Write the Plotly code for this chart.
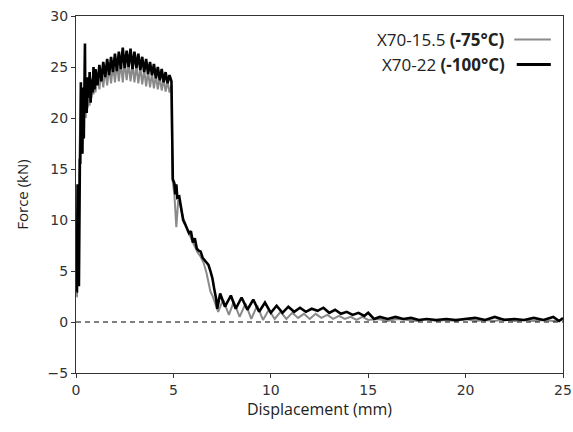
import plotly.graph_objects as go

# X70-22 (-100°C), black
black_x = [0.03, 0.05, 0.08, 0.1, 0.12, 0.15, 0.18, 0.2, 0.22, 0.25, 0.28, 0.3, 0.33, 0.36, 0.4, 0.43, 0.46, 0.48,
           0.5, 0.55, 0.6, 0.65, 0.7, 0.75, 0.8, 0.85, 0.9, 0.95,
           1.0, 1.1, 1.2, 1.3, 1.4, 1.5, 1.6, 1.7, 1.8, 1.9, 2.0, 2.1, 2.2, 2.3, 2.4, 2.5, 2.6, 2.7, 2.8, 2.9,
           3.0, 3.1, 3.2, 3.3, 3.4, 3.5, 3.6, 3.7, 3.8, 3.9, 4.0, 4.1, 4.2, 4.3, 4.4, 4.5, 4.6, 4.7, 4.8, 4.9,
           4.93, 4.97, 5.05, 5.1, 5.15, 5.2, 5.3, 5.4, 5.5, 5.6, 5.7, 5.8, 5.9, 6.0, 6.1, 6.2, 6.3, 6.4, 6.5,
           6.6, 6.7, 6.8, 6.9, 7.0, 7.1, 7.2, 7.25, 7.4, 7.65, 7.95, 8.2, 8.5, 8.8, 9.1, 9.4, 9.7, 10.0,
           10.3, 10.6, 10.9, 11.2, 11.5, 11.8, 12.1, 12.4, 12.7, 13.0, 13.3, 13.6, 13.9, 14.2, 14.5, 14.8,
           15.0, 15.3, 15.6, 16.0, 16.4, 16.8, 17.2, 17.6, 18.0, 18.5, 19.0, 19.5, 20.0, 20.5, 21.0, 21.5,
           22.0, 22.5, 23.0, 23.5, 24.0, 24.5, 24.8, 25.0]
black_y = [3.0, 3.0, 13.5, 4.5, 12.5, 3.5, 14.0, 16.0, 15.5, 23.5, 17.0, 21.0, 16.5, 23.0, 18.0, 24.0, 27.3, 21.0,
           23.5, 20.5, 24.0, 22.0, 24.5, 21.5, 23.8, 22.5, 25.0, 22.8,
           24.8, 23.2, 25.2, 23.6, 25.5, 24.0, 25.8, 24.2, 26.0, 24.5, 26.3, 24.6, 26.5, 24.8, 26.9, 24.9, 26.6, 25.0, 26.8, 24.8,
           26.5, 24.9, 26.3, 24.7, 26.0, 24.5, 25.8, 24.3, 25.5, 24.2, 25.3, 23.9, 25.0, 23.7, 24.8, 23.5, 24.5, 23.4, 24.2, 23.6,
           15.0, 14.0, 13.6, 12.5, 13.5, 12.2, 12.3, 11.0, 10.0, 9.6, 9.2, 8.7, 8.9, 7.8, 8.2, 7.2, 7.0, 6.9, 6.3,
           6.1, 5.9, 5.6, 5.0, 4.3, 3.2, 2.2, 1.3, 2.8, 1.5, 2.6, 1.3, 2.4, 1.2, 2.2, 1.0, 1.9, 0.9,
           1.6, 0.9, 1.5, 1.0, 1.4, 1.0, 1.3, 1.1, 1.4, 0.9, 1.2, 0.8, 1.0, 0.7, 0.9, 0.6,
           0.9, 0.3, 0.5, 0.3, 0.5, 0.3, 0.4, 0.2, 0.3, 0.2, 0.3, 0.2, 0.3, 0.4, 0.2, 0.5,
           0.2, 0.3, 0.2, 0.4, 0.2, 0.5, 0.1, 0.4]

# X70-15.5 (-75°C), grey
grey_x = [0.03, 0.05, 0.08, 0.12, 0.16, 0.2, 0.25, 0.3, 0.35, 0.4, 0.45, 0.5, 0.55, 0.6, 0.65, 0.7, 0.75, 0.8, 0.85, 0.9, 0.95,
          1.0, 1.1, 1.2, 1.3, 1.4, 1.5, 1.6, 1.7, 1.8, 1.9, 2.0, 2.1, 2.2, 2.3, 2.4, 2.5, 2.6, 2.7, 2.8, 2.9,
          3.0, 3.1, 3.2, 3.3, 3.4, 3.5, 3.6, 3.7, 3.8, 3.9, 4.0, 4.1, 4.2, 4.3, 4.4, 4.5, 4.6, 4.7, 4.8, 4.9,
          4.95, 5.05, 5.15, 5.25, 5.35, 5.5, 5.65, 5.8, 5.95, 6.1, 6.25, 6.4, 6.55, 6.7, 6.8, 6.9, 7.0, 7.1,
          7.3, 7.55, 7.85, 8.1, 8.4, 8.7, 9.0, 9.3, 9.6, 9.9, 10.2, 10.5, 10.8, 11.1, 11.4, 11.7, 12.0, 12.3,
          12.6, 12.9, 13.2, 13.5, 13.8, 14.1, 14.4, 14.7, 15.0, 15.5, 16.0, 16.5, 17.0, 17.5, 18.0, 18.5,
          19.0, 19.5, 20.0, 20.5, 21.0, 21.5, 22.0, 22.5, 23.0, 23.5, 24.0, 24.5, 25.0]
grey_y = [2.5, 2.5, 11.0, 4.0, 15.0, 18.0, 22.5, 16.5, 21.5, 19.0, 23.0, 20.0, 22.5, 21.0, 23.5, 21.2, 23.3, 22.0, 24.0, 22.3, 24.2,
          22.5, 24.4, 22.8, 24.6, 23.0, 24.8, 23.2, 25.0, 23.4, 25.2, 23.5, 25.4, 23.6, 25.5, 23.5, 25.6, 23.7, 25.4, 23.6, 25.3,
          23.5, 25.2, 23.4, 25.0, 23.3, 24.8, 23.1, 24.6, 23.0, 24.4, 22.9, 24.2, 22.8, 24.0, 22.7, 23.8, 22.6, 23.6, 22.5, 23.2,
          14.0, 12.5, 9.3, 12.0, 11.5, 10.2, 9.4, 8.6, 8.0, 7.4, 6.8, 6.4, 5.8, 4.8, 4.0, 3.0, 2.6, 2.0,
          1.0, 2.2, 0.7, 2.0, 0.5, 1.8, 0.3, 1.6, 0.2, 1.2, 0.3, 1.0, 0.3, 0.9, 0.4, 0.8, 0.3, 0.8,
          0.4, 0.7, 0.3, 0.6, 0.3, 0.5, 0.2, 0.5, 0.2, 0.3, 0.1, 0.3, 0.2, 0.1, 0.3, 0.1,
          0.2, 0.1, 0.3, 0.1, 0.2, 0.1, 0.3, 0.1, 0.2, 0.1, 0.2, 0.1, 0.2]

x_ticks = [0, 5, 10, 15, 20, 25]
y_ticks = [-5, 0, 5, 10, 15, 20, 25, 30]
y_tick_text = ["\u22125", "0", "5", "10", "15", "20", "25", "30"]

fig = go.Figure()
fig.add_trace(go.Scatter(x=grey_x, y=grey_y, mode="lines", line=dict(color="#8a8a8a", width=2),
                         name="X70-15.5 (-75°C)", showlegend=False))
fig.add_trace(go.Scatter(x=black_x, y=black_y, mode="lines", line=dict(color="#000000", width=2.6),
                         name="X70-22 (-100°C)", showlegend=False))

fig.add_shape(type="line", xref="x", yref="y", x0=0, x1=25, y0=0, y1=0,
              line=dict(color="black", width=1.2, dash="5px,4px"))

# legend (text on left, sample line on right)
fig.add_annotation(xref="paper", yref="paper", x=0.886, y=0.934, xanchor="right", yanchor="middle",
                   text="X70-15.5 <b>(-75°C)</b>", showarrow=False,
                   font=dict(family="Open Sans", size=17, color="#222"))
fig.add_annotation(xref="paper", yref="paper", x=0.886, y=0.864, xanchor="right", yanchor="middle",
                   text="X70-22 <b>(-100°C)</b>", showarrow=False,
                   font=dict(family="Open Sans", size=17, color="#222"))
fig.add_shape(type="line", xref="paper", yref="paper", x0=0.9, x1=0.975, y0=0.934, y1=0.934,
              line=dict(color="#8a8a8a", width=2))
fig.add_shape(type="line", xref="paper", yref="paper", x0=0.905, x1=0.975, y0=0.864, y1=0.864,
              line=dict(color="#000000", width=3))

fig.update_layout(
    width=573, height=432,
    margin=dict(l=76, r=10, t=16, b=59),
    paper_bgcolor="white", plot_bgcolor="white",
    xaxis=dict(range=[0, 25], tickvals=x_ticks, ticks="outside", ticklen=4, tickcolor="#333",
               showline=True, linecolor="#333", linewidth=1, mirror=True, showgrid=False, zeroline=False,
               automargin=False,
               tickfont=dict(family="DejaVu Sans", size=14, color="#333"),
               title=dict(text="Displacement (mm)", font=dict(family="Open Sans", size=16, color="#222"), standoff=7)),
    yaxis=dict(range=[-5, 30], tickvals=y_ticks, ticktext=y_tick_text, ticks="outside", ticklen=4, tickcolor="#333",
               showline=True, linecolor="#333", linewidth=1, mirror=True, showgrid=False, zeroline=False,
               automargin=False,
               tickfont=dict(family="DejaVu Sans", size=14, color="#333"),
               title=dict(text="Force (kN)", font=dict(family="Open Sans", size=15, color="#222"), standoff=15)),
)

fig.write_html("out.html", config={"displayModeBar": False},
               post_script="document.body.style.margin='0';")
